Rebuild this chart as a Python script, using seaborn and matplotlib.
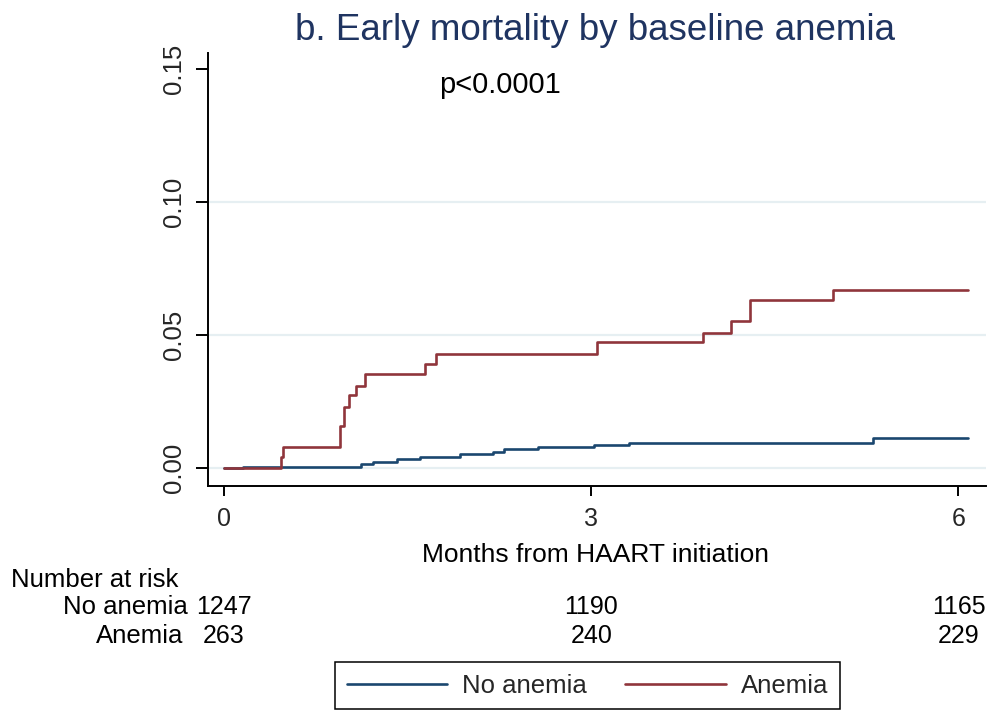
import numpy as np
import pandas as pd
import matplotlib
matplotlib.use("Agg")
import matplotlib.pyplot as plt
import matplotlib.transforms as mtrans
from matplotlib.lines import Line2D
import seaborn as sns

# ---- data ----
groups = ["No anemia", "Anemia"]
no_anemia_t = [0, 0.152, 1.117, 1.215, 1.41, 1.60, 1.924, 2.196, 2.285, 2.565, 3.021, 3.31, 5.299, 6.076]
no_anemia_ci = [0, 0.0006, 0.0016, 0.0025, 0.0034, 0.0044, 0.0054, 0.0061, 0.0071, 0.0080, 0.0088, 0.0097, 0.0115, 0.0115]
anemia_t = [0, 0.465, 0.48, 0.946, 0.98, 1.019, 1.08, 1.155, 1.644, 1.734, 3.043, 3.913, 4.144, 4.294, 4.973, 6.076]
anemia_ci = [0, 0.0043, 0.0080, 0.0159, 0.0231, 0.0274, 0.0311, 0.0355, 0.0391, 0.0428, 0.0475, 0.0510, 0.0554, 0.0632, 0.0669, 0.0669]
xticks = [0, 3, 6]
yticks = [0.00, 0.05, 0.10, 0.15]
ytick_labels = ["0.00", "0.05", "0.10", "0.15"]
risk_times = [0, 3, 6]
risk_no_anemia = [1247, 1190, 1165]
risk_anemia = [263, 240, 229]
title = "b. Early mortality by baseline anemia"
ptext = "p<0.0001"
xlabel = "Months from HAART initiation"

df = pd.concat([
    pd.DataFrame({"t": no_anemia_t, "ci": no_anemia_ci, "group": groups[0]}),
    pd.DataFrame({"t": anemia_t, "ci": anemia_ci, "group": groups[1]}),
], ignore_index=True)

sns.set_theme(style="white")
plt.rcParams["font.family"] = ["Liberation Sans", "DejaVu Sans"]

W, H = 991, 710
fig = plt.figure(figsize=(W / 100, H / 100), dpi=100)
ax = fig.add_axes([208 / W, 1 - 486 / H, (986 - 208) / W, (486 - 53) / H])

colors = {"No anemia": "#1a476f", "Anemia": "#90353b"}

# grid lines (not at top tick)
for yv in yticks[:-1]:
    ax.axhline(yv, color="#e6eff2", lw=1.6, zorder=0)

sns.lineplot(data=df, x="t", y="ci", hue="group", hue_order=groups,
             palette=colors, drawstyle="steps-post", estimator=None,
             errorbar=None, sort=False, lw=1.9, legend=False, ax=ax)

ax.set_xlim(-0.131, 6.225)
ax.set_ylim(-0.00665, 0.1561)
ax.set_xticks(xticks)
ax.set_xticklabels([str(v) for v in xticks])
ax.set_yticks(yticks)
ax.set_yticklabels(ytick_labels, rotation=90, va="center")
ax.set_xlabel("")
ax.set_ylabel("")

for s in ["top", "right"]:
    ax.spines[s].set_visible(False)
for s in ["left", "bottom"]:
    ax.spines[s].set_color("black")
    ax.spines[s].set_linewidth(1.4)

ax.tick_params(axis="y", which="major", length=9, width=1.4, pad=7,
               labelsize=18.5, color="black", left=True, direction="out")
ax.tick_params(axis="x", which="major", length=7, width=1.4, pad=8,
               labelsize=18, color="black", bottom=True, direction="out")

# title and p-value
fig.text(595 / W, 1 - 40 / H, title, ha="center", va="baseline",
         fontsize=26.5, color="#1f3461")
fig.text(500 / W, 1 - 93 / H, ptext, ha="center", va="baseline",
         fontsize=21, color="black")

# x label
fig.text(595 / W, 1 - 562 / H, xlabel, ha="center", va="baseline",
         fontsize=19, color="black")

# number at risk table
tr = mtrans.blended_transform_factory(ax.transData, fig.transFigure)
fig.text(11 / W, 1 - 587 / H, "Number at risk", ha="left", va="baseline",
         fontsize=18.5, color="black")
fig.text(188 / W, 1 - 614 / H, "No anemia", ha="right", va="baseline",
         fontsize=18.5, color="black")
fig.text(183 / W, 1 - 643 / H, "Anemia", ha="right", va="baseline",
         fontsize=18.5, color="black")
for t, n1, n2 in zip(risk_times, risk_no_anemia, risk_anemia):
    fig.text(t, 1 - 614 / H, str(n1), transform=tr, ha="center", va="baseline",
             fontsize=18, color="black")
    fig.text(t, 1 - 643 / H, str(n2), transform=tr, ha="center", va="baseline",
             fontsize=18, color="black")

# legend
handles = [Line2D([0], [0], color=colors[g], lw=1.9) for g in groups]
leg = fig.legend(handles, groups, loc="upper center", ncol=2,
                 bbox_to_anchor=(587.5 / W, 1 - 662 / H),
                 bbox_transform=fig.transFigure, fontsize=18.5,
                 frameon=True, fancybox=False, shadow=False, framealpha=1,
                 edgecolor="black", borderaxespad=0, borderpad=0.45,
                 handlelength=3.9, handletextpad=0.6, columnspacing=1.5)
leg.get_frame().set_linewidth(1.1)

fig.savefig("out.png", dpi=100)
